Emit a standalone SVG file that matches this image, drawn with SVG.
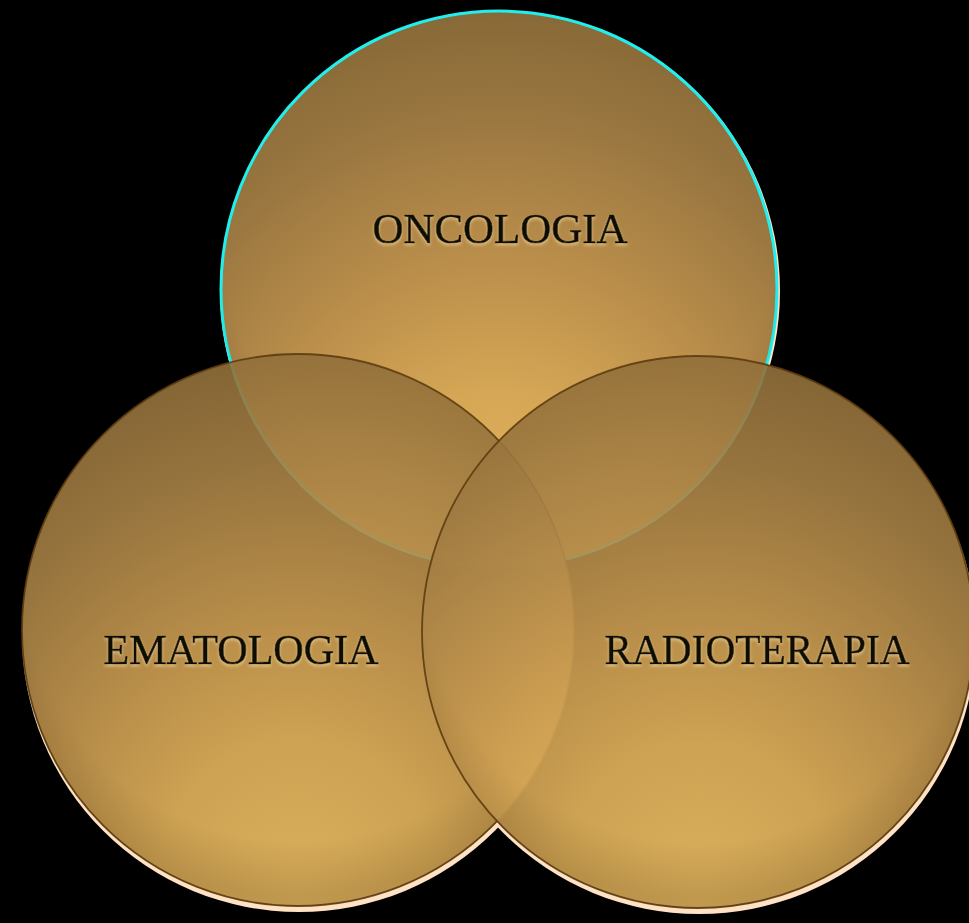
<svg xmlns="http://www.w3.org/2000/svg" width="969" height="923" viewBox="0 0 969 923">
<defs>
<radialGradient id="gold" cx="0.5" cy="1" r="1" fx="0.5" fy="1" gradientTransform="translate(0.5,1) scale(0.88,1) translate(-0.5,-1)">
<stop offset="0" stop-color="#e6b75e"/>
<stop offset="0.3" stop-color="#d6a856"/>
<stop offset="0.55" stop-color="#bb8f4b"/>
<stop offset="0.8" stop-color="#9c7841"/>
<stop offset="1" stop-color="#876937"/>
</radialGradient>
<radialGradient id="gold2" cx="0.5" cy="1" r="1" fx="0.5" fy="1" gradientTransform="translate(0.5,1) scale(0.88,1) translate(-0.5,-1)">
<stop offset="0" stop-color="#f2c266"/>
<stop offset="0.3" stop-color="#e4b45c"/>
<stop offset="0.55" stop-color="#c89a50"/>
<stop offset="0.8" stop-color="#a78145"/>
<stop offset="1" stop-color="#916f3a"/>
</radialGradient>
<radialGradient id="rimshade" cx="50%" cy="38%" r="60%">
<stop offset="0.84" stop-color="#3a2508" stop-opacity="0"/>
<stop offset="1" stop-color="#3a2508" stop-opacity="0.16"/>
</radialGradient>
<clipPath id="c1"><circle cx="499" cy="289" r="278"/></clipPath>
<clipPath id="c2"><circle cx="298" cy="630" r="276"/></clipPath>
<clipPath id="c3"><circle cx="698" cy="632" r="276"/></clipPath>
<filter id="glow" x="-10%" y="-30%" width="120%" height="170%">
<feDropShadow dx="0" dy="2" stdDeviation="1.5" flood-color="#f2d49a" flood-opacity="0.7"/>
</filter>
</defs>
<style>
.lbl{font-family:"Liberation Serif","DejaVu Serif",serif;font-size:42px;fill:#0d0a05;stroke:#0d0a05;stroke-width:0.7;text-anchor:middle;filter:url(#glow)}
.peach{fill:#ffe2c4}
.clear{fill:#000}
.disc{fill:url(#gold)}
.disc2{fill:url(#gold2);fill-opacity:0.9;stroke-opacity:0.9}
.shade{fill:url(#rimshade)}
</style>
<rect x="0" y="0" width="969" height="923" fill="#000"/>
<g id="rims">
<circle class="peach" cx="500" cy="291" r="280"/>
<circle class="peach" cx="299" cy="635" r="277"/>
<circle class="peach" cx="699" cy="637" r="277"/>
<circle class="clear" cx="298" cy="630" r="276"/>
<circle class="clear" cx="698" cy="632" r="276"/>
</g>
<g id="oncologia">
<circle class="disc" cx="499" cy="289" r="278" stroke="#22eeee" stroke-width="3"/>
<rect class="shade" x="221" y="11" width="556" height="556" clip-path="url(#c1)"/>
</g>
<g id="ematologia">
<circle class="disc2" cx="298" cy="630" r="276" stroke="#5e3c10" stroke-width="1.8"/>
<rect class="shade" x="22" y="354" width="552" height="552" clip-path="url(#c2)"/>
</g>
<g id="radioterapia">
<circle class="disc2" cx="698" cy="632" r="276" stroke="#5e3c10" stroke-width="1.8"/>
<rect class="shade" x="422" y="356" width="552" height="552" clip-path="url(#c3)"/>
</g>
<g id="labels">
<text class="lbl" x="500" y="243" textLength="255" lengthAdjust="spacingAndGlyphs">ONCOLOGIA</text>
<text class="lbl" x="241" y="664" textLength="275" lengthAdjust="spacingAndGlyphs">EMATOLOGIA</text>
<text class="lbl" x="757" y="664" textLength="305" lengthAdjust="spacingAndGlyphs">RADIOTERAPIA</text>
</g>
</svg>
